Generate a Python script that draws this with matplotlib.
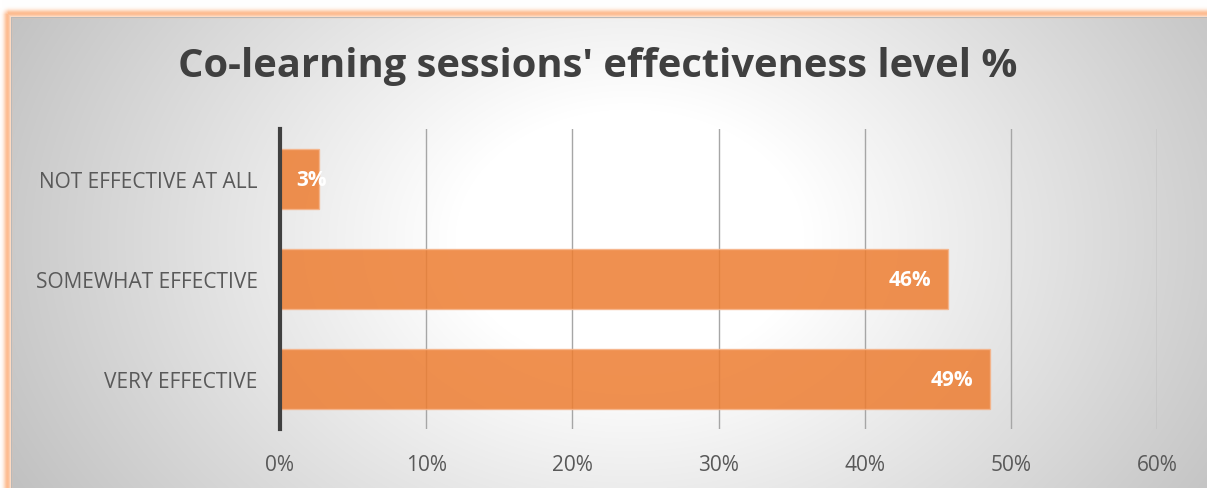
import numpy as np
import matplotlib.pyplot as plt

plt.rcParams['font.family'] = ['Open Sans', 'DejaVu Sans']

# survey shares (%), bottom to top as drawn
categories = ['VERY EFFECTIVE', 'SOMEWHAT EFFECTIVE', 'NOT EFFECTIVE AT ALL']
shares = [48.6, 45.7, 2.7]
xticks = [0, 10, 20, 30, 40, 50, 60]
title = "Co-learning sessions' effectiveness level %"

W, H = 1207, 489
fig = plt.figure(figsize=(W / 100, H / 100), dpi=100)
fig.patch.set_facecolor('white')

# background: soft radial grey gradient with an orange glow along top/left
yy, xx = np.mgrid[0:H, 0:W].astype(float)
d = np.sqrt(((xx - 630) / 700) ** 2 + ((yy - 240) / 520) ** 2)
shade = 255 - 62 * np.clip((d - 0.25) / 0.75, 0, 1)
img = np.ones((H, W, 3))
inside = (xx >= 12) & (yy >= 19)
for c in range(3):
    img[..., c] = np.where(inside, shade / 255, 1.0)

glow = np.array([253, 188, 145]) / 255
gy = np.exp(-((yy - 14.0) / 3.8) ** 2) * np.clip((xx - 2) / 6, 0, 1)
gx = np.exp(-((xx - 7.0) / 3.8) ** 2) * np.clip((yy - 9) / 6, 0, 1)
g = np.clip(np.maximum(gy, gx), 0, 1)
g = np.where((xx > 12) & (yy > 19), 0, g)
for c in range(3):
    img[..., c] = img[..., c] * (1 - g) + glow[c] * g
edge = ((yy == 18) & (xx >= 11)) | ((xx == 11) & (yy >= 18))
img[edge] = np.array([185, 185, 185]) / 255

bg = fig.add_axes([0, 0, 1, 1])
bg.imshow(img, aspect='auto', extent=(0, W, H, 0), interpolation='bilinear')
bg.axis('off')

fig.text(598 / W, 1 - 66 / H, title, ha='center', va='center',
         fontsize=28.7, fontweight='bold', color='#404040')

ax = fig.add_axes([280 / W, 59 / H, 877 / W, 300 / H])
ax.patch.set_visible(False)

ypos = np.arange(len(categories))
ax.barh(ypos, shares, height=0.6, color='#ED7D31', alpha=0.85,
        edgecolor='#f6b48a', linewidth=1.0, zorder=3)

for y, v in zip(ypos, shares):
    if v < 5:
        ax.annotate(f'{v:.0f}%', (0, y), xytext=(12, 0), textcoords='offset points',
                    ha='left', va='center', color='white', fontsize=15,
                    fontweight='bold', zorder=4)
    else:
        ax.annotate(f'{v:.0f}%', (v, y), xytext=(-12, 0), textcoords='offset points',
                    ha='right', va='center', color='white', fontsize=15,
                    fontweight='bold', zorder=4)

ax.set_xlim(0, 60)
ax.set_ylim(-0.5, 2.5)
ax.set_xticks(xticks)
ax.set_xticklabels([f'{t}%' for t in xticks])
ax.set_yticks(ypos)
ax.set_yticklabels(categories)
ax.tick_params(axis='x', length=0, pad=18, labelsize=15, labelcolor='#595959')
ax.tick_params(axis='y', length=0, pad=16, labelsize=15, labelcolor='#595959')

ax.grid(True, axis='x', color='#a6a6a6', linewidth=1.0, zorder=1)
for side in ['top', 'right', 'bottom']:
    ax.spines[side].set_visible(False)
ax.spines['left'].set_color('#404040')
ax.spines['left'].set_linewidth(3)
ax.spines['left'].set_zorder(5)

fig.savefig('out.png', dpi=100, facecolor=fig.get_facecolor())
